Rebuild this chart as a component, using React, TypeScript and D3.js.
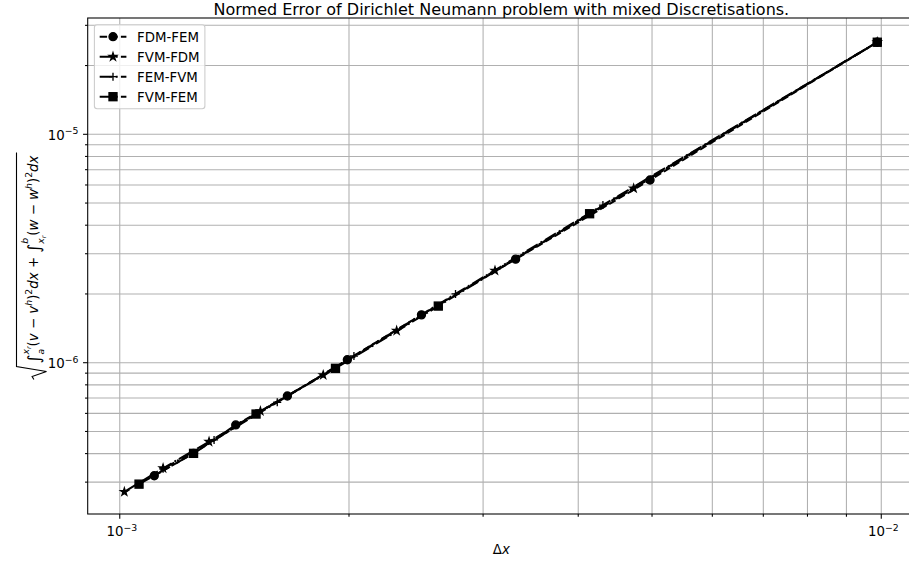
import * as d3 from 'd3';
import { useEffect, useRef } from 'react';

// mesh width and normed error per discretisation pair (fine -> coarse)
const fdmFemDx = [1.11e-3, 1.25e-3, 1.42e-3, 1.66e-3, 1.99e-3, 2.49e-3, 3.31e-3, 4.97e-3, 9.88e-3];
const fdmFemErr = [3.2e-7, 4.01e-7, 5.34e-7, 7.15e-7, 1.03e-6, 1.62e-6, 2.84e-6, 6.31e-6, 2.53e-5];

const fvmFdmDx = [1.014e-3, 1.14e-3, 1.31e-3, 1.53e-3, 1.85e-3, 2.31e-3, 3.11e-3, 4.73e-3, 9.88e-3];
const fvmFdmErr = [2.72e-7, 3.45e-7, 4.51e-7, 6.14e-7, 8.83e-7, 1.38e-6, 2.53e-6, 5.8e-6, 2.53e-5];

const femFvmDx = [1.14e-3, 1.33e-3, 1.61e-3, 2.03e-3, 2.76e-3, 4.31e-3, 9.88e-3];
const femFvmErr = [3.43e-7, 4.59e-7, 6.71e-7, 1.07e-6, 2.0e-6, 4.9e-6, 2.53e-5];

const fvmFemDx = [1.06e-3, 1.25e-3, 1.51e-3, 1.92e-3, 2.62e-3, 4.14e-3, 9.88e-3];
const fvmFemErr = [2.94e-7, 4.01e-7, 5.96e-7, 9.45e-7, 1.77e-6, 4.49e-6, 2.53e-5];

const seriesLabels = ['FDM-FEM', 'FVM-FDM', 'FEM-FVM', 'FVM-FEM'];
const xTickExps = [-3, -2];
const yTickExps = [-6, -5];

const title = 'Normed Error of Dirichlet Neumann problem with mixed Discretisations.';

type Piece = { t: string; s: number; it?: boolean; dy?: number };
type Item = Piece | { sup: Piece[]; sub: Piece[] };

function App() {
  const svgRef = useRef<SVGSVGElement>(null);

  useEffect(() => {
    const W = 909, H = 562;
    const left = 87.7, right = 915, top = 18, bottom = 514;
    const font = '"DejaVu Sans", sans-serif';
    const fs = 13.33;

    const svg = d3.select(svgRef.current);
    svg.selectAll('*').remove();
    svg.attr('width', W).attr('height', H)
      .style('position', 'absolute').style('left', '0px').style('top', '0px')
      .style('font-family', font).style('background', '#fff');

    const x = d3.scaleLog().domain([Math.pow(10, -3.0421), Math.pow(10, -1.9557)]).range([left, right]);
    const y = d3.scaleLog().domain([Math.pow(10, -6.6624), Math.pow(10, -4.4908)]).range([bottom, top]);

    const lw = 2;
    const dashed = [3.7, 1.6].map(v => v * lw).join(',');
    const dashdot = [6.4, 1.6, 1, 1.6].map(v => v * lw).join(',');
    const series = [
      { label: seriesLabels[0], dx: fdmFemDx, err: fdmFemErr, marker: 'circle', dash: dashed },
      { label: seriesLabels[1], dx: fvmFdmDx, err: fvmFdmErr, marker: 'star', dash: dashdot },
      { label: seriesLabels[2], dx: femFvmDx, err: femFvmErr, marker: 'plus', dash: dashdot },
      { label: seriesLabels[3], dx: fvmFemDx, err: fvmFemErr, marker: 'square', dash: dashdot },
    ];

    // grid
    const grid = svg.append('g').attr('stroke', '#b0b0b0').attr('stroke-width', 1.07);
    x.ticks().forEach(t => {
      grid.append('line').attr('x1', x(t)).attr('x2', x(t)).attr('y1', top).attr('y2', bottom);
    });
    y.ticks().forEach(t => {
      grid.append('line').attr('x1', left).attr('x2', right).attr('y1', y(t)).attr('y2', y(t));
    });

    // data
    const ms = 8, mew = 1.33;
    const starPath = (() => {
      const R = ms / 2, r = R * 0.381966;
      const pts: [number, number][] = [];
      for (let i = 0; i < 10; i++) {
        const a = -Math.PI / 2 + i * Math.PI / 5;
        const rr = i % 2 === 0 ? R : r;
        pts.push([rr * Math.cos(a), rr * Math.sin(a)]);
      }
      return 'M' + pts.map(p => p.join(',')).join('L') + 'Z';
    })();

    const drawMarker = (g: any, m: string, cx: number, cy: number) => {
      if (m === 'circle') {
        g.append('circle').attr('cx', cx).attr('cy', cy).attr('r', ms / 2)
          .attr('fill', '#000').attr('stroke', '#000').attr('stroke-width', mew);
      } else if (m === 'square') {
        g.append('rect').attr('x', cx - ms / 2).attr('y', cy - ms / 2).attr('width', ms).attr('height', ms)
          .attr('fill', '#000').attr('stroke', '#000').attr('stroke-width', mew);
      } else if (m === 'star') {
        g.append('path').attr('d', starPath).attr('transform', `translate(${cx},${cy})`)
          .attr('fill', '#000').attr('stroke', '#000').attr('stroke-width', mew);
      } else {
        g.append('path').attr('d', `M${cx - ms / 2},${cy}H${cx + ms / 2}M${cx},${cy - ms / 2}V${cy + ms / 2}`)
          .attr('fill', 'none').attr('stroke', '#000').attr('stroke-width', mew);
      }
    };

    const line = d3.line<[number, number]>().x(d => x(d[0])).y(d => y(d[1]));
    series.forEach(s => {
      const pts = s.dx.map((d, i) => [d, s.err[i]] as [number, number]);
      const g = svg.append('g');
      g.append('path').attr('d', line(pts)).attr('fill', 'none').attr('stroke', '#000')
        .attr('stroke-width', lw).attr('stroke-dasharray', s.dash);
      pts.forEach(p => drawMarker(g, s.marker, x(p[0]), y(p[1])));
    });

    // spines
    svg.append('rect').attr('x', left).attr('y', top).attr('width', right - left).attr('height', bottom - top)
      .attr('fill', 'none').attr('stroke', '#000').attr('stroke-width', 1.07);

    // ticks
    const ticks = svg.append('g').attr('stroke', '#000').attr('stroke-width', 1.07);
    x.ticks().forEach(t => {
      const major = Math.abs(Math.log10(t) - Math.round(Math.log10(t))) < 1e-9;
      ticks.append('line').attr('x1', x(t)).attr('x2', x(t)).attr('y1', bottom).attr('y2', bottom + (major ? 4.67 : 2.67));
    });
    y.ticks().forEach(t => {
      const major = Math.abs(Math.log10(t) - Math.round(Math.log10(t))) < 1e-9;
      ticks.append('line').attr('x1', left).attr('x2', left - (major ? 4.67 : 2.67)).attr('y1', y(t)).attr('y2', y(t));
    });

    const powLabel = (g: any, px: number, py: number, e: number, anchor: string) => {
      const t = g.append('text').attr('x', px).attr('y', py).attr('text-anchor', anchor)
        .attr('font-size', fs).attr('fill', '#000');
      t.append('tspan').text('10');
      t.append('tspan').attr('dy', -5.5).attr('font-size', 9.3).text('−' + Math.abs(e));
    };
    xTickExps.forEach(e => powLabel(svg, x(Math.pow(10, e)) + 2, 536, e, 'middle'));
    yTickExps.forEach(e => powLabel(svg, 78.4, y(Math.pow(10, e)) + 5.5, e, 'end'));

    // axis labels
    const xl = svg.append('text').attr('x', (left + right) / 2).attr('y', 554).attr('text-anchor', 'middle')
      .attr('font-size', fs).attr('fill', '#000');
    xl.append('tspan').text('Δ');
    xl.append('tspan').attr('font-style', 'italic').text('x');

    // y label: sqrt of the two integrals, laid out piece by piece
    const S = fs, s1 = 9.3, s2 = 6.5;
    const yItems: Item[] = [
      { t: '∫', s: 17, dy: 2 },
      { sup: [{ t: 'x', s: s1, it: true, dy: -9 }, { t: 'r', s: s2, it: true, dy: -7 }], sub: [{ t: 'a', s: s1, it: true, dy: 6 }] },
      { t: '(', s: S }, { t: 'v', s: S, it: true }, { t: ' − ', s: S }, { t: 'v', s: S, it: true },
      { t: 'h', s: s1, it: true, dy: -6 }, { t: ')', s: S }, { t: '2', s: s1, dy: -6 },
      { t: 'dx', s: S, it: true }, { t: ' + ', s: S },
      { t: '∫', s: 17, dy: 2 },
      { sup: [{ t: 'b', s: s1, it: true, dy: -10 }], sub: [{ t: 'x', s: s1, it: true, dy: 6 }, { t: 'r', s: s2, it: true, dy: 8 }] },
      { t: '(', s: S }, { t: 'w', s: S, it: true }, { t: ' − ', s: S }, { t: 'w', s: S, it: true },
      { t: 'h', s: s1, it: true, dy: -6 }, { t: ')', s: S }, { t: '2', s: s1, dy: -6 },
      { t: 'dx', s: S, it: true },
    ];
    const yg = svg.append('g').attr('transform', 'translate(37.5,266) rotate(-90)');
    const inner = yg.append('g');
    const txt = inner.append('g');
    const put = (p: Piece, px: number) => {
      const n = txt.append('text').attr('x', px).attr('y', p.dy || 0).attr('font-size', p.s)
        .attr('font-style', p.it ? 'italic' : 'normal').attr('fill', '#000')
        .style('white-space', 'pre').attr('xml:space', 'preserve').text(p.t);
      return (n.node() as SVGTextElement).getComputedTextLength();
    };
    let cx = 0;
    yItems.forEach(it => {
      if ('sup' in it) {
        let a = cx, b = cx;
        it.sup.forEach(p => { a += put(p, a); });
        it.sub.forEach(p => { b += put(p, b); });
        cx = Math.max(a, b);
      } else {
        cx += put(it, cx);
      }
    });
    const bb = (txt.node() as SVGGElement).getBBox();
    const yt = bb.y - 2, yb = bb.y + bb.height - 1;
    const x0 = -3;
    inner.append('path')
      .attr('d', `M${x0 - 13},${yb - 0.42 * (yb - yt)}L${x0 - 10},${yb - 0.48 * (yb - yt)}L${x0 - 5},${yb}L${x0},${yt}L${cx + 3},${yt}`)
      .attr('fill', 'none').attr('stroke', '#000').attr('stroke-width', 1.1);
    const total = cx + 3 - (x0 - 13);
    inner.attr('transform', `translate(${-total / 2 - (x0 - 13)},0)`);

    // title
    svg.append('text').attr('x', (left + right) / 2).attr('y', 14.5).attr('text-anchor', 'middle')
      .attr('font-size', 16).attr('fill', '#000').text(title);

    // legend
    const lg = svg.append('g');
    const lx = 94.4, ly = 24.7;
    lg.append('rect').attr('x', lx).attr('y', ly).attr('width', 110.5).attr('height', 84).attr('rx', 2.7)
      .attr('fill', '#fff').attr('fill-opacity', 0.8).attr('stroke', '#cccccc').attr('stroke-width', 1.07);
    series.forEach((s, i) => {
      const ry = 36.7 + i * 20;
      lg.append('line').attr('x1', 99.7).attr('x2', 126.4).attr('y1', ry).attr('y2', ry)
        .attr('stroke', '#000').attr('stroke-width', lw).attr('stroke-dasharray', s.dash);
      drawMarker(lg, s.marker, 113, ry);
      lg.append('text').attr('x', 137.1).attr('y', ry + 4.8).attr('font-size', fs).attr('fill', '#000').text(s.label);
    });
  }, []);

  return <svg ref={svgRef}></svg>;
}

export default App;
